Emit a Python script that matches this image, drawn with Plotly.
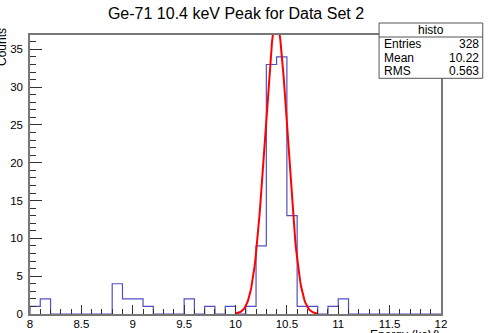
import numpy as np
import plotly.graph_objects as go

# ---- data ----
bin_edges_start = 8.0
bin_width = 0.1
counts = [1, 2, 0, 0, 0, 0, 0, 0, 4, 2,
          2, 1, 0, 0, 0, 2, 0, 1, 0, 1,
          0, 1, 9, 33, 34, 13, 1, 1, 0, 1,
          2, 0, 0, 0, 0, 0, 0, 0, 0, 0]
fit_amp = 38.6
fit_mean = 10.397
fit_sigma = 0.111
fit_range = [10.0, 10.8]
stats_labels = ["Entries", "Mean", "RMS"]
stats_values = ["328", "10.22", "0.563"]
title = "Ge-71 10.4 keV Peak for Data Set 2"

W, H = 491, 333
L, R, T, B = 30, 441.5, 35, 314


def px(x):
    return (x - L) / (R - L)


def py(y):
    return (B - y) / (B - T)


edges = [bin_edges_start + i * bin_width for i in range(len(counts) + 1)]
hx = [edges[0]] + edges
hy = [0] + counts + [counts[-1]]

fx = np.linspace(fit_range[0], fit_range[1], 100)
fy = fit_amp * np.exp(-0.5 * ((fx - fit_mean) / fit_sigma) ** 2)

fig = go.Figure()
fig.add_trace(go.Scatter(x=hx, y=hy, mode="lines", line_shape="hv",
                         line=dict(color="#5050c4", width=1.2), hoverinfo="skip"))
fig.add_trace(go.Scatter(x=fx, y=fy, mode="lines",
                         line=dict(color="#ff0000", width=2), hoverinfo="skip"))

font = "Liberation Sans, Arial, sans-serif"
fig.update_layout(
    template="none",
    width=W, height=H,
    margin=dict(l=L, r=W - R, t=T, b=H - B, pad=0),
    paper_bgcolor="white", plot_bgcolor="white",
    showlegend=False,
    font=dict(family=font, size=11, color="black"),
    title=dict(text=title, x=236 / W, xanchor="center", y=1 - 13 / H, yanchor="middle",
               font=dict(size=16, family=font, color="black")),
)
fig.update_xaxes(range=[8, 12], tickvals=[8, 8.5, 9, 9.5, 10, 10.5, 11, 11.5, 12],
                 ticktext=["8", "8.5", "9", "9.5", "10", "10.5", "11", "11.5", "12"],
                 ticks="inside", ticklen=9, tickcolor="#333", tickwidth=1,
                 minor=dict(ticks="inside", ticklen=5, dtick=0.1, tick0=8, tickcolor="#333", showgrid=False),
                 showgrid=False, zeroline=False, showline=True, linecolor="#777", linewidth=1.5,
                 mirror=True, tickfont=dict(size=11.5), ticklabelstandoff=-2, automargin=False)
fig.update_yaxes(range=[0, 36.9], tickvals=[0, 5, 10, 15, 20, 25, 30, 35],
                 ticks="inside", ticklen=12, tickcolor="#333", tickwidth=1,
                 minor=dict(ticks="inside", ticklen=6, dtick=1, tick0=0, tickcolor="#333", showgrid=False),
                 showgrid=False, zeroline=False, showline=True, linecolor="#777", linewidth=1.5,
                 mirror=True, tickfont=dict(size=11.5), ticklabelstandoff=3, automargin=False)

# stats box
bx0, bx1, by0, by1, hline = 379.5, 483.3, 23.0, 78.3, 37.0
fig.add_shape(type="rect", xref="paper", yref="paper",
              x0=px(bx0), x1=px(bx1), y0=py(by1), y1=py(by0),
              line=dict(color="#555", width=1), fillcolor="white", layer="above")
fig.add_shape(type="line", xref="paper", yref="paper",
              x0=px(bx0), x1=px(bx1), y0=py(hline), y1=py(hline),
              line=dict(color="#555", width=1), layer="above")
fig.add_annotation(text="histo", xref="paper", yref="paper", x=px(431.5), y=py(30),
                   xanchor="center", yanchor="middle", showarrow=False,
                   font=dict(size=12, family=font))
row_y = [44.0, 57.5, 71.5]
for lab, val, yy in zip(stats_labels, stats_values, row_y):
    fig.add_annotation(text=lab, xref="paper", yref="paper", x=px(383), y=py(yy),
                       xanchor="left", yanchor="middle", showarrow=False,
                       font=dict(size=12, family=font), borderpad=0)
    fig.add_annotation(text=val, xref="paper", yref="paper", x=px(480.5), y=py(yy),
                       xanchor="right", yanchor="middle", showarrow=False,
                       font=dict(size=12, family=font), borderpad=0)

# axis titles
fig.add_annotation(text="Counts", xref="paper", yref="paper", x=px(2), y=py(26),
                   xanchor="center", yanchor="top", textangle=-90, showarrow=False,
                   font=dict(size=12, family=font))
fig.add_annotation(text="Energy (keV)", xref="paper", yref="paper", x=px(442), y=py(327),
                   xanchor="right", yanchor="top", showarrow=False,
                   font=dict(size=12, family=font), borderpad=0)

fig.write_html("out.html")
